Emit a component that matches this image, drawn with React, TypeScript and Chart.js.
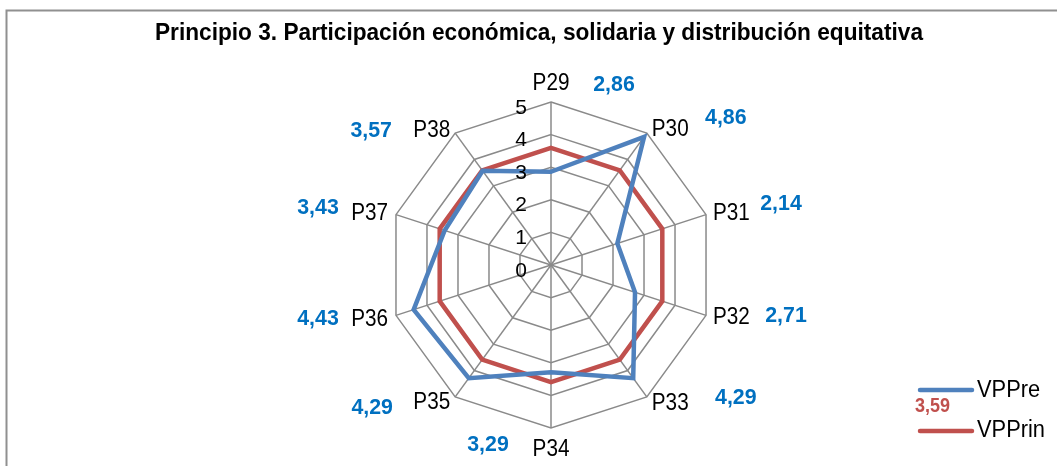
import React, { useEffect, useRef } from "react";
import { Chart, registerables } from "chart.js";

Chart.register(...registerables);

const TITLE = "Principio 3. Participación económica, solidaria y distribución equitativa";
const categories = ["P29", "P30", "P31", "P32", "P33", "P34", "P35", "P36", "P37", "P38"];
const vpPre = [2.86, 4.86, 2.14, 2.71, 4.29, 3.29, 4.29, 4.43, 3.43, 3.57];
const vpPrin = [3.59, 3.59, 3.59, 3.59, 3.59, 3.59, 3.59, 3.59, 3.59, 3.59];
const seriesNames = ["VPPre", "VPPrin"];
const tickValues = [0, 1, 2, 3, 4, 5];
const prinLabel = "3,59";

// layout: offsets of the blue value labels from each outer vertex (px)
const valueLabelOffsets: [number, number][] = [
  [63, -19], [79, -17], [75, -13], [80, -1], [89, -1],
  [-63, 15], [-83, 9], [-78, 2], [-78, -9], [-84, -4],
];
// layout: point label placement [dx gap, cap-centre dy] relative to vertex
const pointLabelOffsets: [number, number][] = [
  [0, -20], [5, -5.5], [7, -3], [7, 0.5], [5, 4.5],
  [0, 20], [5, 4], [8, 2], [8, -3], [5, -4.5],
];

const BLUE = "#4F81BD";
const RED = "#C0504D";
const LABEL_BLUE = "#0070C0";
const GRID = "#8a8a8a";
const FONT = "'Liberation Sans', Arial, sans-serif";

const fmt = (v: number) => v.toFixed(2).replace(".", ",");

function drawText(
  ctx: CanvasRenderingContext2D,
  text: string,
  x: number,
  capCenterY: number,
  size: number,
  bold: boolean,
  align: CanvasTextAlign,
  color: string,
  sx = 1
) {
  ctx.save();
  ctx.font = `${bold ? "bold " : ""}${size}px ${FONT}`;
  ctx.fillStyle = color;
  ctx.textAlign = align;
  ctx.textBaseline = "alphabetic";
  ctx.translate(x, capCenterY + 0.358 * size);
  ctx.scale(sx, 1);
  ctx.fillText(text, 0, 0);
  ctx.restore();
}

const overlayPlugin = {
  id: "overlay",
  afterDraw(chart: any) {
    const ctx = chart.ctx as CanvasRenderingContext2D;
    const scale = chart.scales.r;
    const cx = scale.xCenter;
    const cy = scale.yCenter;
    const R = scale.drawingArea;
    ctx.save();

    // frame (top and left)
    ctx.strokeStyle = "#909090";
    ctx.lineWidth = 2;
    ctx.beginPath();
    ctx.moveTo(6.5, chart.height);
    ctx.lineTo(6.5, 10.5);
    ctx.lineTo(chart.width, 10.5);
    ctx.stroke();

    // title, fitted to its width in the reference
    ctx.font = `bold 23px ${FONT}`;
    const tw = ctx.measureText(TITLE).width;
    drawText(ctx, TITLE, 539, 32, 23, true, "center", "#000", 768 / tw);

    // point labels
    categories.forEach((lab, i) => {
      const p = scale.getPointPosition(i, R);
      const dx = p.x - cx;
      const o = pointLabelOffsets[i];
      let align: CanvasTextAlign = "center";
      let x = p.x;
      if (Math.abs(dx) >= 1) {
        align = dx > 0 ? "left" : "right";
        x += dx > 0 ? o[0] : -o[0];
      }
      drawText(ctx, lab, x, p.y + o[1], 23, false, align, "#000", 0.9);
    });

    // tick labels
    tickValues.forEach((t) => {
      const d = scale.getDistanceFromCenterForValue(t);
      drawText(ctx, String(t), cx - 24, cy - d + 4, 21, false, "right", "#000");
    });

    // value labels
    vpPre.forEach((v, i) => {
      const p = scale.getPointPosition(i, R);
      const o = valueLabelOffsets[i];
      drawText(ctx, fmt(v), p.x + o[0], p.y + o[1], 22, true, "center", LABEL_BLUE, 0.97);
    });

    // legend
    const colors = [BLUE, RED];
    const lineYs = [390, 431];
    const textYs = [388.5, 429];
    ctx.lineCap = "round";
    colors.forEach((c, k) => {
      ctx.strokeStyle = c;
      ctx.lineWidth = 4.5;
      ctx.beginPath();
      ctx.moveTo(920, lineYs[k]);
      ctx.lineTo(972, lineYs[k]);
      ctx.stroke();
      drawText(ctx, seriesNames[k], 977, textYs[k], 23, false, "left", "#000", 0.95);
    });
    drawText(ctx, prinLabel, 932.5, 405, 20, true, "center", RED, 0.9);

    ctx.restore();
  },
};

export default function App() {
  const ref = useRef<HTMLCanvasElement>(null);
  useEffect(() => {
    document.body.style.margin = "0";
    const chart = new Chart(ref.current!, {
      type: "radar",
      data: {
        labels: categories,
        datasets: [
          {
            label: seriesNames[0],
            data: vpPre,
            borderColor: BLUE,
            backgroundColor: BLUE,
            borderWidth: 4.5,
            pointRadius: 0,
            fill: false,
          },
          {
            label: seriesNames[1],
            data: vpPrin,
            borderColor: RED,
            backgroundColor: RED,
            borderWidth: 4.5,
            pointRadius: 0,
            fill: false,
          },
        ],
      },
      options: {
        animation: false,
        responsive: true,
        maintainAspectRatio: false,
        layout: { padding: { left: 388, right: 343, top: 102, bottom: 38 } },
        plugins: { legend: { display: false }, title: { display: false }, tooltip: { enabled: false } },
        elements: { line: { tension: 0 } },
        scales: {
          r: {
            min: 0,
            max: 5,
            ticks: { stepSize: 1, display: false },
            pointLabels: { display: false },
            grid: { color: GRID, lineWidth: 1.5 },
            angleLines: { color: GRID, lineWidth: 1.5 },
          },
        },
      },
      plugins: [overlayPlugin],
    });
    return () => chart.destroy();
  }, []);
  return (
    <div style={{ width: 1057, height: 466, position: "relative" }}>
      <canvas ref={ref} />
    </div>
  );
}
